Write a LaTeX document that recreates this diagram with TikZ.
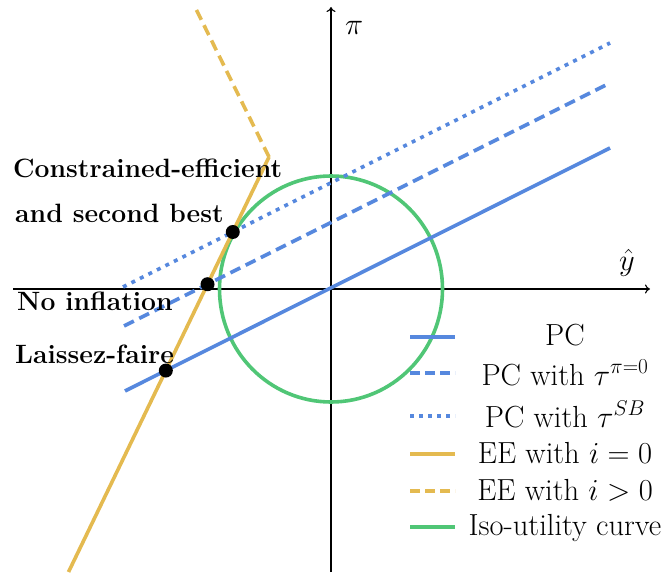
\RequirePackage{fix-cm}
\documentclass[tikz,border=0pt]{standalone}
\usepackage{fontspec}
\usetikzlibrary{arrows.meta,intersections}
\definecolor{pcblue}{RGB}{86,136,222}
\definecolor{eegold}{RGB}{228,186,80}
\definecolor{isogreen}{RGB}{80,198,118}
\begin{document}
\begin{tikzpicture}[x=1pt,y=-1pt,
  every node/.style={font=\fontsize{30.5}{36}\selectfont, inner sep=0pt},
  axisline/.style={line width=1.1pt, -{To[length=5pt,width=9pt]}},
  pcline/.style={pcblue, line width=3.6pt},
  eeline/.style={eegold, line width=3.6pt},
  isoline/.style={isogreen, line width=3.6pt},
  dashpat/.style={dash pattern=on 11pt off 6pt},
  dotpat/.style={dash pattern=on 4pt off 5.5pt},
  eqdot/.style={circle, fill=black, minimum size=14pt, inner sep=0pt},
  lbl/.style={anchor=base west, font=\fontsize{26.5}{32}\selectfont\bfseries},
  legtext/.style={anchor=base},
]
\useasboundingbox (0,0) rectangle (668,572);

% axes
\coordinate (O) at (331,289);
\coordinate (xL) at (13,289);
\coordinate (xR) at (650,289);
\coordinate (yB) at (331,572);
\coordinate (yT) at (331,7);
\draw[axisline] (xL) -- (xR);
\draw[axisline] (yB) -- (yT);
\node[anchor=base west] (pilab) at (345,35) {$\pi$};
\node[anchor=base west] (ylab) at (619,270) {$\hat{y}$};

% iso-utility curve
\draw[isoline] (O) ellipse [x radius=111.5, y radius=113];

% Phillips curves
\coordinate (pcA) at (125,391);
\coordinate (pcB) at (610,148);
\coordinate (pcdA) at (124,326);
\coordinate (pcdB) at (610,83);
\coordinate (pcsA) at (123,287);
\coordinate (pcsB) at (610,43);
\draw[pcline, name path=pc] (pcA) -- (pcB);
\draw[pcline, dashpat, name path=pcd] (pcdA) -- (pcdB);
\draw[pcline, dotpat, name path=pcs] (pcsA) -- (pcsB);

% EE curves
\coordinate (eeA) at (68.5,572);
\coordinate (eeK) at (269,157);
\coordinate (eeT) at (195,7);
\draw[eeline, name path=ee] (eeA) -- (eeK);
\draw[eeline, dashpat] (eeK) -- (eeT);

% equilibria
\path[name intersections={of=ee and pc, by=iLF}];
\path[name intersections={of=ee and pcd, by=iNI}];
\path[name intersections={of=ee and pcs, by=iCE}];
\node[eqdot] (dLF) at (iLF) {};
\node[eqdot] (dNI) at (iNI) {};
\node[eqdot] (dCE) at (iCE) {};

% labels
\node[lbl] (tCE1) at (13,177) {Constrained-efficient};
\node[lbl] (tCE2) at (15,222) {and second best};
\node[lbl] (tNI) at (17,310) {No inflation};
\node[lbl] (tLF) at (15,363) {Laissez-faire};

% legend
\coordinate (s1a) at (410,337); \coordinate (s1b) at (455,337);
\coordinate (s2a) at (410,373); \coordinate (s2b) at (455,373);
\coordinate (s3a) at (410,416); \coordinate (s3b) at (455,416);
\coordinate (s4a) at (410,454); \coordinate (s4b) at (455,454);
\coordinate (s5a) at (410,491); \coordinate (s5b) at (455,491);
\coordinate (s6a) at (410,527); \coordinate (s6b) at (455,527);
\draw[pcline] (s1a) -- (s1b);
\draw[pcline, dash pattern=on 10pt off 5pt] (s2a) -- (s2b);
\draw[pcline, dash pattern=on 4pt off 5pt] (s3a) -- (s3b);
\draw[eeline] (s4a) -- (s4b);
\draw[eeline, dash pattern=on 10pt off 5pt] (s5a) -- (s5b);
\draw[isoline] (s6a) -- (s6b);
\node[legtext] (l1) at (565,345) {PC};
\node[legtext] (l2) at (565,385) {PC with $\tau^{\pi=0}$};
\node[legtext] (l3) at (565,427) {PC with $\tau^{SB}$};
\node[legtext] (l4) at (565,463) {EE with $i=0$};
\node[legtext] (l5) at (565,500) {EE with $i>0$};
\node[legtext] (l6) at (565,535) {Iso-utility curve};
\end{tikzpicture}
\end{document}
